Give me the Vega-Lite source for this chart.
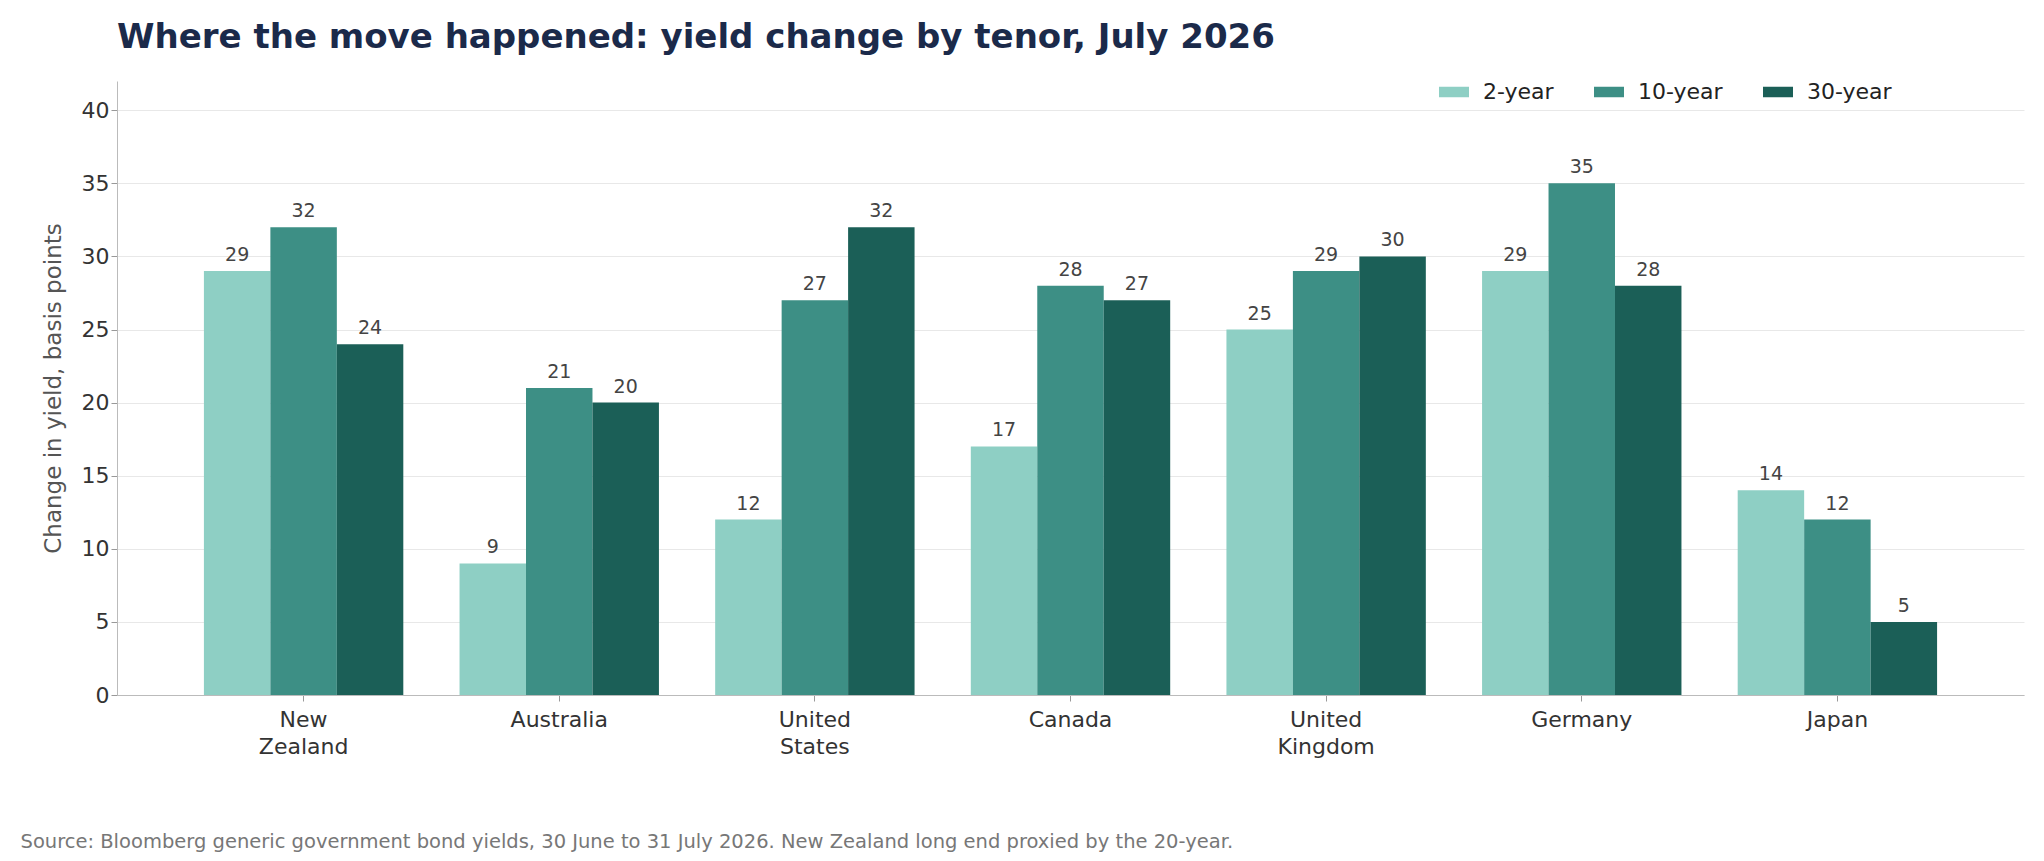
{
  "$schema": "https://vega.github.io/schema/vega-lite/v6.json",
  "width": 1907,
  "height": 614,
  "autosize": {"type": "none"},
  "padding": {"left": 117, "top": 81, "right": 20, "bottom": 166},
  "title": {
    "text": "Where the move happened: yield change by tenor, July 2026",
    "anchor": "start",
    "frame": "group",
    "fontSize": 34,
    "font": "DejaVu Sans",
    "fontWeight": "bold",
    "color": "#1b2a4a",
    "offset": 22
  },
  "data": {
    "values": [
      {"country": "New\nZealand", "tenor": "2-year", "bp": 29},
      {"country": "New\nZealand", "tenor": "10-year", "bp": 32},
      {"country": "New\nZealand", "tenor": "30-year", "bp": 24},
      {"country": "Australia", "tenor": "2-year", "bp": 9},
      {"country": "Australia", "tenor": "10-year", "bp": 21},
      {"country": "Australia", "tenor": "30-year", "bp": 20},
      {"country": "United\nStates", "tenor": "2-year", "bp": 12},
      {"country": "United\nStates", "tenor": "10-year", "bp": 27},
      {"country": "United\nStates", "tenor": "30-year", "bp": 32},
      {"country": "Canada", "tenor": "2-year", "bp": 17},
      {"country": "Canada", "tenor": "10-year", "bp": 28},
      {"country": "Canada", "tenor": "30-year", "bp": 27},
      {"country": "United\nKingdom", "tenor": "2-year", "bp": 25},
      {"country": "United\nKingdom", "tenor": "10-year", "bp": 29},
      {"country": "United\nKingdom", "tenor": "30-year", "bp": 30},
      {"country": "Germany", "tenor": "2-year", "bp": 29},
      {"country": "Germany", "tenor": "10-year", "bp": 35},
      {"country": "Germany", "tenor": "30-year", "bp": 28},
      {"country": "Japan", "tenor": "2-year", "bp": 14},
      {"country": "Japan", "tenor": "10-year", "bp": 12},
      {"country": "Japan", "tenor": "30-year", "bp": 5}
    ]
  },
  "encoding": {
    "x": {
      "field": "country",
      "type": "nominal",
      "sort": null,
      "scale": {"paddingInner": 0.22, "paddingOuter": 0.34},
      "axis": {
        "labelAngle": 0,
        "labelExpr": "split(datum.label, '\\n')",
        "labelFontSize": 22,
        "labelColor": "#333333",
        "labelLineHeight": 27,
        "labelPadding": 8,
        "domainColor": "#bbbbbb",
        "tickColor": "#999999",
        "tickSize": 6,
        "title": "Source: Bloomberg generic government bond yields, 30 June to 31 July 2026. New Zealand long end proxied by the 20-year.",
        "titleFontSize": 19.5,
        "titleFontWeight": "normal",
        "titleColor": "#777777",
        "titleAnchor": "start",
        "titleAlign": "left",
        "titleX": -97,
        "titleY": 137
      }
    },
    "xOffset": {"field": "tenor", "type": "nominal", "sort": ["2-year", "10-year", "30-year"]},
    "y": {
      "field": "bp",
      "type": "quantitative",
      "scale": {"domain": [0, 42], "nice": false},
      "axis": {
        "values": [0, 5, 10, 15, 20, 25, 30, 35, 40],
        "title": "Change in yield, basis points",
        "titleFontSize": 23,
        "titleFontWeight": "normal",
        "titleColor": "#555555",
        "titlePadding": 16,
        "labelFontSize": 22,
        "labelColor": "#333333",
        "gridColor": "#e8e8e8",
        "domainColor": "#bbbbbb",
        "tickColor": "#999999",
        "tickSize": 6
      }
    }
  },
  "layer": [
    {
      "mark": {"type": "bar"},
      "encoding": {
        "color": {
          "field": "tenor",
          "type": "nominal",
          "sort": ["2-year", "10-year", "30-year"],
          "scale": {"domain": ["2-year", "10-year", "30-year"], "range": ["#8ecfc4", "#3d8f85", "#1b5f57"]},
          "legend": {
            "title": null,
            "orient": "none",
            "direction": "horizontal",
            "legendX": 1322,
            "legendY": -4,
            "symbolType": "M-1,-0.35L1,-0.35L1,0.35L-1,0.35Z",
            "symbolSize": 900,
            "symbolStrokeWidth": 0,
            "labelFontSize": 22,
            "labelOffset": 14,
            "labelColor": "#222222",
            "columnPadding": 40
          }
        }
      }
    },
    {
      "mark": {"type": "text", "dy": -16, "fontSize": 19, "color": "#444444"},
      "encoding": {"text": {"field": "bp", "type": "quantitative"}}
    }
  ],
  "config": {
    "font": "DejaVu Sans",
    "view": {"stroke": null},
    "axisX": {"grid": false}
  }
}
